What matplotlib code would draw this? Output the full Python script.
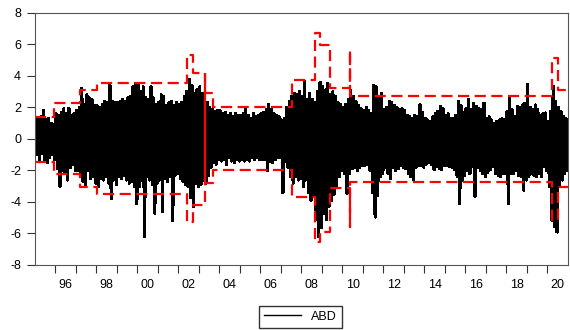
import matplotlib.pyplot as plt
import numpy as np
from matplotlib.lines import Line2D

plt.rcParams['font.family'] = ['Liberation Sans', 'DejaVu Sans']

start_year = 1995
per_year = 8

# upper / lower extremes of the returns, 8 sub-periods per year (1995..2020)
highs = [
    1.2, 1.3, 1.4, 1.8, 1.2, 1.3, 1.0, 0.9,       # 1995
    1.6, 1.5, 1.7, 1.9, 1.6, 1.95, 1.5, 1.6,      # 1996
    1.8, 2.0, 3.2, 2.2, 2.8, 2.6, 2.5, 2.1,       # 1997
    2.1, 2.0, 2.2, 2.4, 2.3, 3.4, 2.4, 2.3,       # 1998
    2.3, 2.4, 2.5, 2.4, 2.6, 2.7, 3.3, 3.5,       # 1999
    3.5, 3.0, 3.3, 2.6, 2.5, 3.3, 2.6, 2.2,       # 2000
    2.3, 2.8, 2.7, 2.1, 2.3, 2.4, 2.1, 2.3,       # 2001
    2.2, 2.3, 2.7, 3.0, 3.75, 3.4, 2.9, 3.1,      # 2002
    3.3, 2.9, 2.4, 2.3, 2.0, 1.9, 1.75, 1.8,      # 2003
    1.8, 1.6, 1.7, 1.5, 1.6, 1.4, 1.6, 1.5,       # 2004
    1.5, 1.6, 1.85, 1.5, 1.3, 1.6, 1.4, 1.5,      # 2005
    1.6, 1.7, 1.85, 2.2, 1.9, 1.6, 1.5, 1.4,      # 2006
    1.2, 1.3, 2.0, 2.4, 2.7, 2.9, 2.8, 3.0,       # 2007
    2.7, 3.65, 2.5, 2.9, 2.5, 2.3, 3.0, 3.6,      # 2008
    3.3, 3.1, 3.5, 2.8, 3.0, 2.7, 2.3, 2.2,       # 2009
    2.0, 2.2, 2.5, 3.1, 2.7, 2.4, 2.1, 1.9,       # 2010
    1.8, 2.0, 1.8, 1.6, 3.4, 3.3, 2.6, 2.9,       # 2011
    1.85, 2.0, 2.4, 2.3, 2.1, 2.0, 1.85, 1.9,     # 2012
    1.8, 1.5, 1.4, 1.3, 1.5, 1.4, 2.15, 1.7,      # 2013
    1.3, 1.2, 1.1, 1.4, 1.6, 1.75, 2.05, 1.9,     # 2014
    1.5, 1.6, 1.3, 1.3, 1.5, 2.4, 2.1, 1.7,       # 2015
    1.9, 2.5, 1.85, 2.27, 2.05, 1.9, 1.85, 2.27,  # 2016
    1.3, 1.4, 1.2, 1.0, 1.1, 1.2, 1.3, 1.2,       # 2017
    1.75, 2.6, 1.85, 1.4, 2.05, 2.0, 2.15, 2.27,  # 2018
    3.45, 2.0, 1.85, 2.15, 1.85, 1.5, 1.6, 1.65,  # 2019
    1.1, 1.75, 3.35, 2.4, 2.0, 1.75, 1.4, 1.3,    # 2020
]
lows = [
    -1.0, -1.4, -0.9, -1.3, -1.5, -1.2, -1.0, -1.3,     # 1995
    -1.9, -3.0, -2.0, -2.2, -2.6, -1.8, -1.6, -2.0,     # 1996
    -2.0, -2.3, -2.7, -2.9, -2.0, -2.5, -2.4, -2.8,     # 1997
    -3.0, -2.5, -2.6, -2.4, -2.8, -3.8, -2.6, -2.9,     # 1998
    -2.4, -2.5, -2.3, -2.6, -2.8, -2.7, -3.0, -4.1,     # 1999
    -3.0, -2.6, -6.2, -2.4, -2.6, -2.9, -4.7, -2.8,     # 2000
    -2.6, -4.6, -2.5, -2.7, -2.4, -5.2, -2.3, -2.2,     # 2001
    -2.5, -2.7, -2.9, -3.0, -3.7, -4.3, -2.8, -3.0,     # 2002
    -2.9, -2.6, -2.8, -2.3, -1.8, -1.5, -1.6, -1.3,     # 2003
    -1.4, -1.3, -1.6, -1.2, -1.4, -1.5, -1.3, -1.4,     # 2004
    -1.3, -1.4, -1.3, -1.4, -1.2, -1.3, -1.2, -1.3,     # 2005
    -1.3, -1.3, -2.0, -1.4, -1.5, -1.3, -1.2, -1.2,     # 2006
    -3.4, -1.4, -1.8, -2.4, -2.8, -2.4, -2.6, -2.5,     # 2007
    -3.0, -2.6, -3.4, -3.9, -3.5, -5.1, -6.2, -5.6,     # 2008
    -4.7, -5.1, -4.3, -3.9, -3.5, -3.0, -2.4, -2.0,     # 2009
    -2.2, -3.45, -2.2, -1.9, -1.8, -2.0, -1.8, -1.7,    # 2010
    -1.7, -1.6, -2.0, -3.4, -4.95, -3.6, -2.4, -2.2,    # 2011
    -1.8, -2.2, -2.5, -1.8, -2.0, -1.9, -1.7, -1.8,     # 2012
    -1.9, -2.2, -2.4, -2.6, -1.8, -1.7, -1.7, -1.8,     # 2013
    -1.6, -1.5, -1.6, -1.95, -1.75, -1.9, -1.95, -1.7,  # 2014
    -1.7, -1.75, -1.8, -1.95, -2.4, -4.1, -2.6, -2.3,   # 2015
    -2.0, -2.2, -1.75, -3.65, -1.8, -2.0, -2.2, -2.4,   # 2016
    -2.1, -1.95, -1.75, -2.2, -2.3, -2.4, -2.2, -2.2,   # 2017
    -4.1, -2.2, -2.2, -2.0, -2.3, -2.4, -3.25, -2.6,    # 2018
    -2.4, -2.2, -2.3, -2.4, -2.2, -2.4, -1.75, -2.0,    # 2019
    -3.0, -5.15, -5.55, -5.9, -3.0, -2.6, -2.2, -2.0,   # 2020
]

# variance regimes: start (fractional year) and band levels
regime_start = [1995.0, 1995.93, 1997.2, 1998.02, 2002.41, 2002.71, 2003.3,
                2003.68, 2007.52, 2008.66, 2008.9, 2009.39, 2010.37,
                2010.39, 2020.2, 2020.51]
regime_end = 2021.0
band_upper = [1.42, 2.29, 3.11, 3.54, 5.34, 4.19, 2.9, 2.0, 3.75, 6.72,
              5.98, 3.22, 5.66, 2.75, 5.13, 3.1]
band_lower = [-1.44, -2.22, -3.03, -3.52, -5.26, -4.2, -2.82, -1.97,
              -3.67, -6.53, -5.9, -3.13, -5.57, -2.75, -5.15, -3.03]
# regime break drawn as a solid red line (index into regime_start)
solid_break = 6

year_labels = ["96", "98", "00", "02", "04", "06", "08", "10", "12", "14",
               "16", "18", "20"]


def main():
    n = len(highs)
    idx = np.arange(n)
    t = np.empty(2 * n)
    t[0::2] = start_year + (idx + 0.25) / per_year
    t[1::2] = start_year + (idx + 0.75) / per_year
    y = np.empty(2 * n)
    y[0::2] = highs
    y[1::2] = lows

    fig = plt.figure(figsize=(5.7, 3.3), dpi=100)
    ax = fig.add_axes([0.0614, 0.197, 0.935, 0.764])

    ax.plot(t, y, color='black', lw=1.6, antialiased=False)

    xs = regime_start + [regime_end]
    dash = (0, (5, 2.5))
    ax.step(xs, band_upper + [band_upper[-1]], where='post', color='#ff0000',
            lw=1.6, linestyle=dash)
    ax.step(xs, band_lower + [band_lower[-1]], where='post', color='#ff0000',
            lw=1.6, linestyle=dash)
    ax.vlines(regime_start[solid_break], band_lower[solid_break],
              band_upper[solid_break - 1], color='#ff0000', lw=1.6)

    ax.set_xlim(1995.0, 2021.0)
    ax.set_ylim(-8, 8)
    ax.set_yticks(np.arange(-8, 9, 2))
    ax.set_yticklabels([str(v) for v in range(-8, 9, 2)])

    ax.set_xticks(np.arange(1996, 2021))
    ax.set_xticklabels([])
    ax.set_xticks([int("19" + s) + 0.5 if s >= "50" else int("20" + s) + 0.5
                   for s in year_labels], minor=True)
    ax.set_xticklabels(year_labels, minor=True)
    ax.tick_params(axis='x', which='major', direction='out', length=6,
                   width=0.8, color='#333333')
    ax.tick_params(axis='x', which='minor', length=0, pad=10, labelsize=9)
    ax.tick_params(axis='y', direction='out', length=6, width=0.8,
                   color='#333333', labelsize=9, pad=4)
    for sp in ax.spines.values():
        sp.set_color('#555555')
        sp.set_linewidth(0.8)

    handle = Line2D([], [], color='black', lw=1.0)
    leg = fig.legend([handle], ['ABD'], loc='lower center',
                     bbox_to_anchor=(0.527, -0.012), fontsize=9, frameon=True,
                     fancybox=False, handlelength=3.0, borderpad=0.4)
    leg.get_frame().set_edgecolor('black')
    leg.get_frame().set_linewidth(1.0)

    fig.savefig('out.png', dpi=100)
    plt.close(fig)


if __name__ == "__main__":
    main()
